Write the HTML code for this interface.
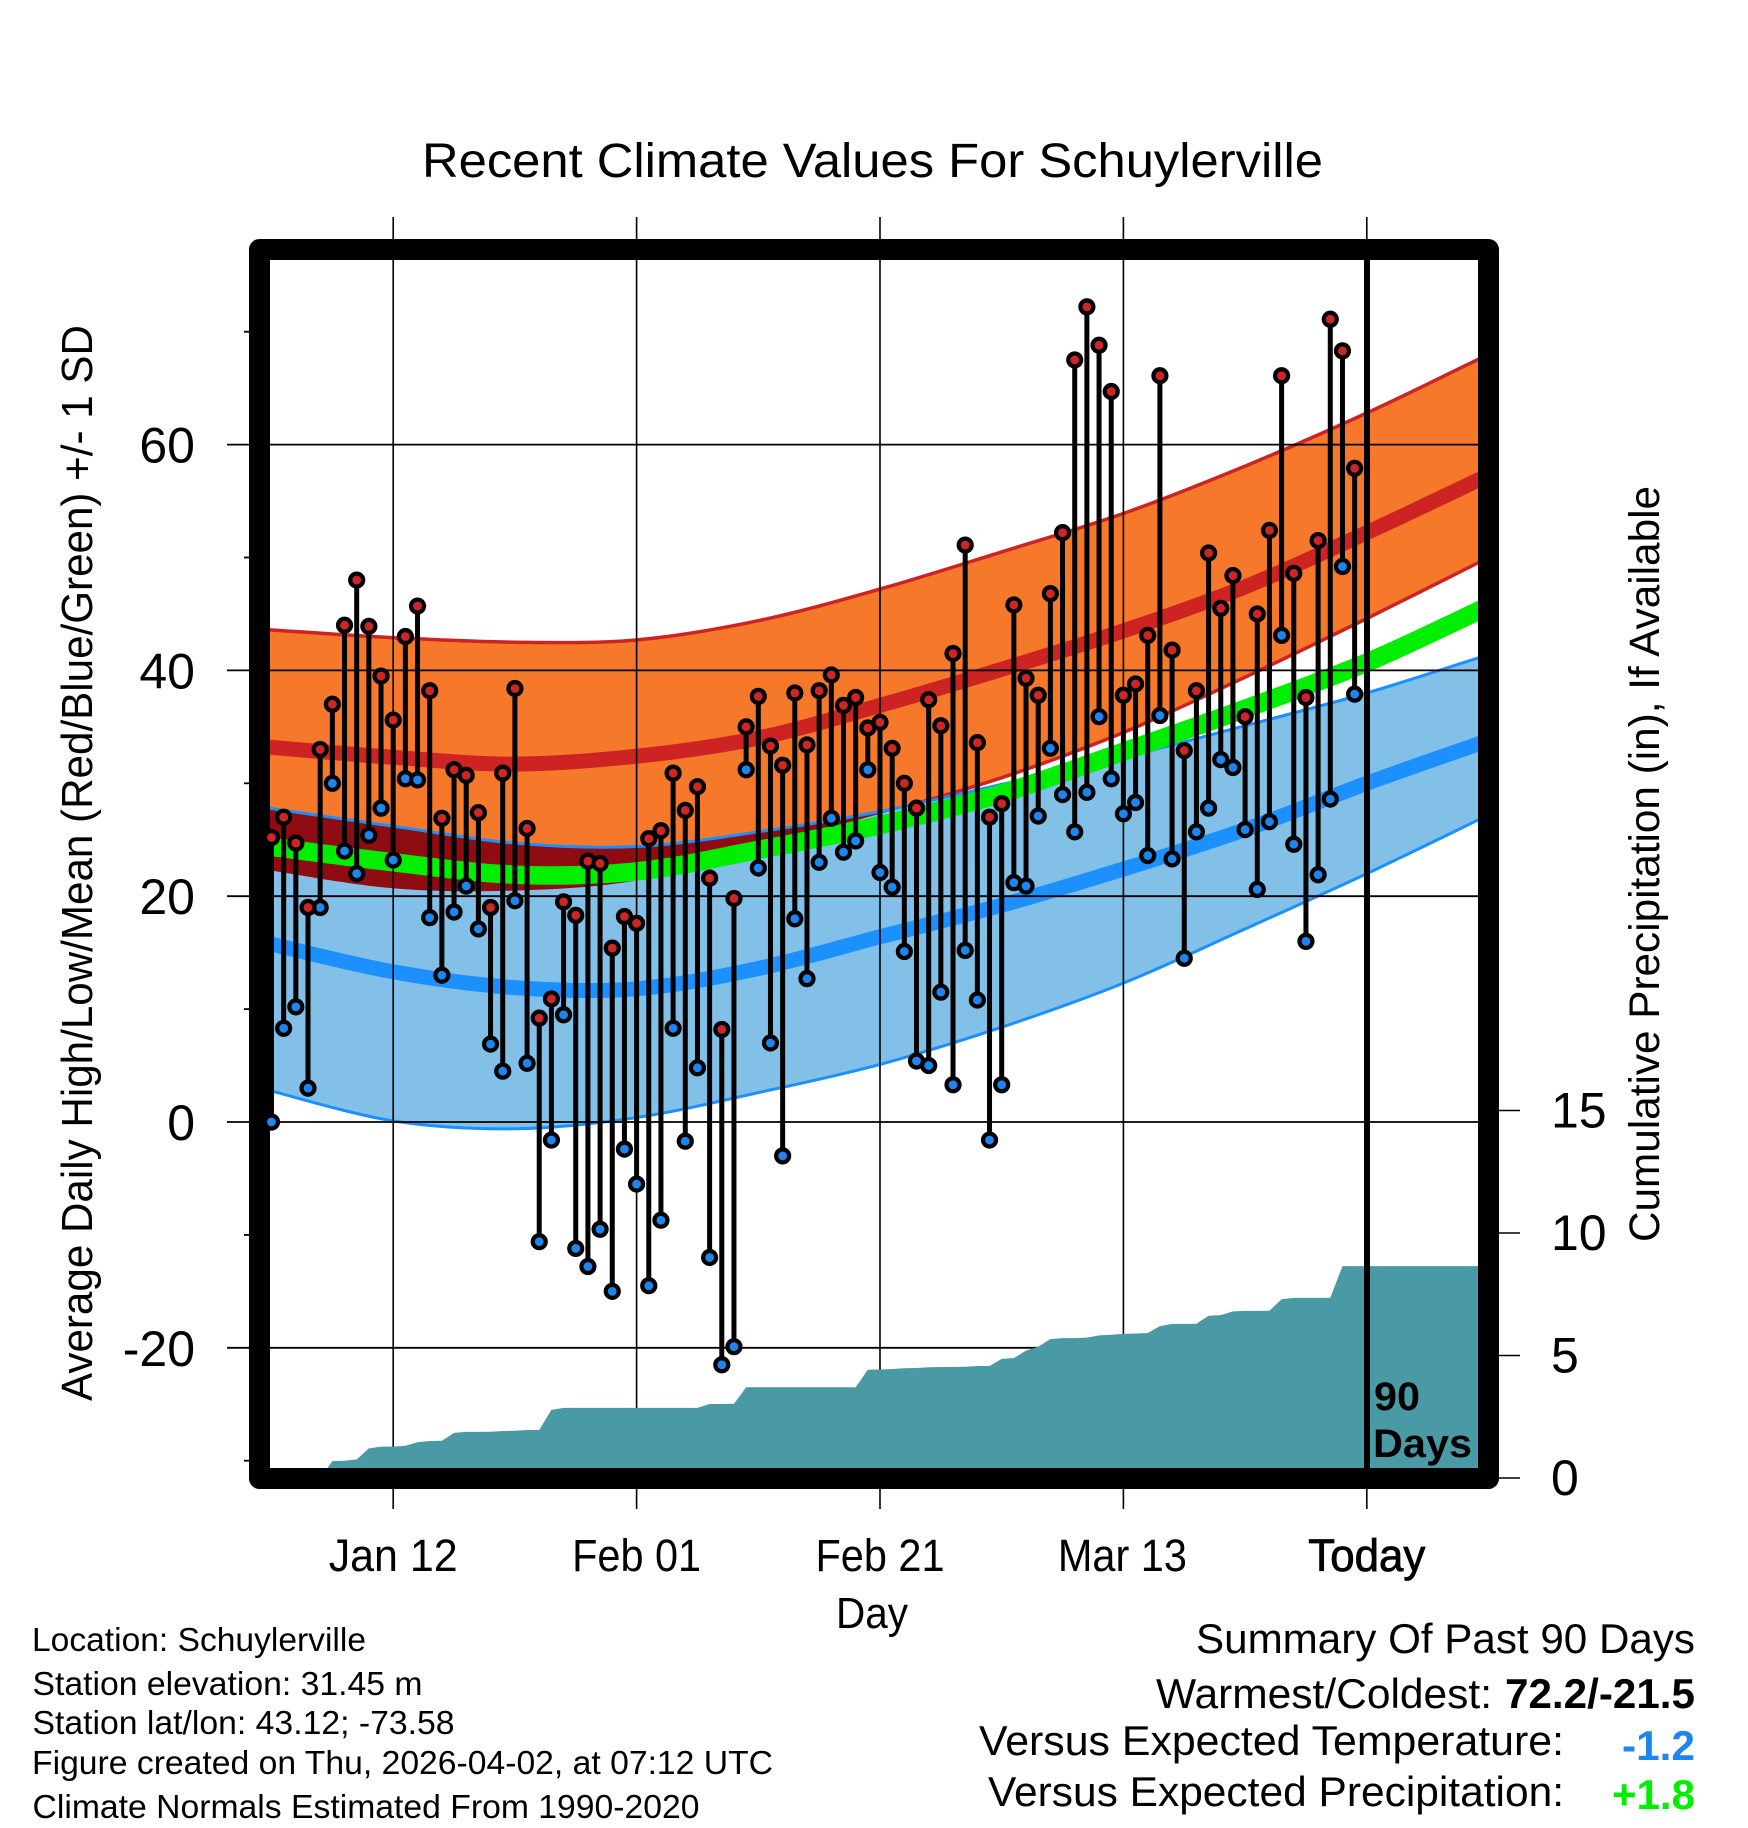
<!DOCTYPE html>
<html lang="en">
<head>
<meta charset="utf-8">
<title>Recent Climate Values For Schuylerville</title>
<style>
html,body{margin:0;padding:0;background:#fff;}
svg{display:block;}
text{font-family:"Liberation Sans",sans-serif;fill:#000;}
</style>
</head>
<body>
<svg id="chart" xmlns="http://www.w3.org/2000/svg" width="1748" height="1828" viewBox="0 0 1748 1828">
  <rect x="0" y="0" width="1748" height="1828" fill="#ffffff"/>
  <defs>
    <clipPath id="plot-clip"><rect x="270" y="260" width="1208" height="1208"/></clipPath>
    <clipPath id="orange-clip"><path id="orange-clip-path" d=""/></clipPath>
  </defs>
  <g id="bands" clip-path="url(#plot-clip)"></g>
  <g id="grid"></g>
  <path id="precip-area" clip-path="url(#plot-clip)" fill="#4a9aa5" d=""/>
  <rect x="259.5" y="249.5" width="1229" height="1229" fill="none" stroke="#000" stroke-width="21" stroke-linejoin="round"/>
  <g id="marks"></g>
  <line x1="1367" x2="1367" y1="258" y2="1470" stroke="#000" stroke-width="6"/>
  <g id="tick-labels"></g>

  <text x="422" y="177" font-size="48" textLength="901" lengthAdjust="spacingAndGlyphs">Recent Climate Values For Schuylerville</text>
  <text x="836" y="1628" font-size="44" textLength="72" lengthAdjust="spacingAndGlyphs">Day</text>
  <text transform="translate(92 1401) rotate(-90)" font-size="44" textLength="1076" lengthAdjust="spacingAndGlyphs">Average Daily High/Low/Mean (Red/Blue/Green) +/- 1 SD</text>
  <text transform="translate(1659 1242) rotate(-90)" font-size="43" textLength="756" lengthAdjust="spacingAndGlyphs">Cumulative Precipitation (in), If Available</text>

  <text x="1374" y="1410" font-size="40" font-weight="bold" textLength="46" lengthAdjust="spacingAndGlyphs">90</text>
  <text x="1373" y="1457" font-size="40" font-weight="bold" textLength="99" lengthAdjust="spacingAndGlyphs">Days</text>

  <text x="32" y="1651" font-size="33" textLength="334" lengthAdjust="spacingAndGlyphs">Location: Schuylerville</text>
  <text x="32.5" y="1695" font-size="33" textLength="390" lengthAdjust="spacingAndGlyphs">Station elevation: 31.45 m</text>
  <text x="32.5" y="1734" font-size="33" textLength="422" lengthAdjust="spacingAndGlyphs">Station lat/lon: 43.12; -73.58</text>
  <text x="32" y="1774" font-size="33" textLength="741" lengthAdjust="spacingAndGlyphs">Figure created on Thu, 2026-04-02, at 07:12 UTC</text>
  <text x="32.5" y="1818" font-size="33" textLength="667" lengthAdjust="spacingAndGlyphs">Climate Normals Estimated From 1990-2020</text>

  <text x="1196" y="1653" font-size="42" textLength="499" lengthAdjust="spacingAndGlyphs">Summary Of Past 90 Days</text>
  <text x="1156" y="1708" font-size="42" textLength="336" lengthAdjust="spacingAndGlyphs">Warmest/Coldest:</text>
  <text x="1505" y="1708" font-size="42" font-weight="bold" textLength="190" lengthAdjust="spacingAndGlyphs">72.2/-21.5</text>
  <text x="979" y="1755" font-size="42" textLength="585" lengthAdjust="spacingAndGlyphs">Versus Expected Temperature:</text>
  <text x="1622" y="1760" font-size="42" font-weight="bold" style="fill:#1c86ee" textLength="73" lengthAdjust="spacingAndGlyphs">-1.2</text>
  <text x="988" y="1806" font-size="42" textLength="576" lengthAdjust="spacingAndGlyphs">Versus Expected Precipitation:</text>
  <text x="1612" y="1809" font-size="42" font-weight="bold" style="fill:#00ee00" textLength="83" lengthAdjust="spacingAndGlyphs">+1.8</text>
</svg>
<script>
// ---- data ----
const highs = [25.2,27.0,24.7,19.0,33.0,37.0,44.0,48.0,43.9,39.5,35.6,43.0,45.7,38.2,26.9,31.2,30.7,27.4,19.0,30.9,38.4,26.0,9.2,10.9,19.5,18.3,23.1,22.9,15.4,18.2,17.6,25.1,25.8,30.9,27.6,29.7,21.6,8.2,19.8,35.0,37.7,33.3,31.6,38.0,33.4,38.2,39.6,36.9,37.6,34.9,35.4,33.1,30.0,27.8,37.4,35.1,41.5,51.1,33.6,27.0,28.2,45.8,39.3,37.8,46.8,52.2,67.5,72.2,68.8,64.7,37.8,38.8,43.1,66.1,41.8,32.9,38.2,50.4,45.5,48.4,35.9,45.0,52.4,66.1,48.6,37.6,51.5,71.1,68.3,57.9];
const lows = [0.0,8.3,10.2,3.0,19.0,30.0,24.0,22.0,25.4,27.8,23.2,30.4,30.3,18.1,13.0,18.6,20.9,17.1,6.9,4.5,19.6,5.2,-10.6,-1.6,9.5,-11.2,-12.8,-9.5,-15.0,-2.4,-5.5,-14.5,-8.7,8.3,-1.7,4.8,-12.0,-21.5,-19.9,31.2,22.5,7.0,-3.0,18.0,12.7,23.0,26.9,23.9,24.9,31.2,22.1,20.8,15.1,5.4,5.0,11.5,3.3,15.2,10.8,-1.6,3.3,21.2,20.9,27.1,33.1,29.0,25.7,29.2,35.9,30.4,27.3,28.3,23.6,36.0,23.3,14.5,25.7,27.8,32.1,31.4,25.9,20.6,26.6,43.1,24.6,16.0,21.9,28.6,49.2,37.9];
const precip = [0,0,0,0,0,0.69,0.70,0.76,1.21,1.28,1.28,1.32,1.46,1.51,1.52,1.84,1.88,1.88,1.89,1.92,1.93,1.96,1.96,2.78,2.86,2.86,2.86,2.86,2.86,2.86,2.86,2.86,2.86,2.86,2.86,2.86,3.02,3.02,3.03,3.70,3.70,3.70,3.70,3.70,3.70,3.70,3.70,3.70,3.70,4.42,4.43,4.45,4.48,4.49,4.52,4.53,4.53,4.54,4.57,4.57,4.86,4.90,5.20,5.36,5.67,5.71,5.71,5.73,5.82,5.85,5.88,5.90,5.92,6.20,6.29,6.29,6.30,6.62,6.65,6.80,6.82,6.82,6.83,7.30,7.35,7.35,7.35,7.36,8.65,8.65];
const normalDays = [-0.2,10,20,30,40,50,60,70,80,90,100];
const highUpper = [43.6,42.9,42.5,42.7,44.4,47.2,50.5,53.9,58.1,62.8,68.0];
const highMean = [33.2,32.3,31.7,32.4,34.0,36.9,40.1,43.5,47.4,52.2,57.3];
const highLower = [22.3,20.7,20.5,21.4,24.4,27.3,30.5,34.5,39.4,44.6,50.0];
const lowUpper = [27.8,26.2,24.7,24.4,25.7,27.5,29.9,32.3,35.1,38.0,41.4];
const lowMean = [15.8,13.3,11.9,11.8,13.6,16.4,19.2,22.4,25.9,30.0,33.8];
const lowLower = [2.8,0.1,-0.6,0.4,2.6,5.1,8.4,12.3,17.1,22.0,27.2];
const meanNormal = [24.4,23.0,21.9,22.2,24.1,26.3,29.1,32.8,36.6,40.7,45.7];
const xTickDays = [10,30,50,70,90];
const xTickLabels = ['Jan 12','Feb 01','Feb 21','Mar 13','Today'];
const yTickValues = [60,40,20,0,-20];
const yMinorValues = [70,50,30,10,-10,-30];
const precipTickValues = [15,10,5,0];

// ---- axis functions ----
function xScale(day){ return 271.5 + 12.17*day; }
function yScale(v){ return 1122 - 11.29*v; }
function pScale(p){ return 1478 - 24.5*p; }

const NS = 'http://www.w3.org/2000/svg';
function make(tag, parent, attrs){
  const el = document.createElementNS(NS, tag);
  for (const k in attrs) el.setAttribute(k, attrs[k]);
  parent.appendChild(el);
  return el;
}
function curveSegments(pts){
  let d = '';
  for (let i = 0; i < pts.length-1; i++){
    const p0 = pts[Math.max(i-1,0)], p1 = pts[i], p2 = pts[i+1], p3 = pts[Math.min(i+2,pts.length-1)];
    const c1x = p1[0]+(p2[0]-p0[0])/6, c1y = p1[1]+(p2[1]-p0[1])/6;
    const c2x = p2[0]-(p3[0]-p1[0])/6, c2y = p2[1]-(p3[1]-p1[1])/6;
    d += 'C'+c1x.toFixed(1)+' '+c1y.toFixed(1)+' '+c2x.toFixed(1)+' '+c2y.toFixed(1)+' '+p2[0].toFixed(1)+' '+p2[1].toFixed(1);
  }
  return d;
}
function points(values){ return values.map(function(v,i){ return [xScale(normalDays[i]), yScale(v)]; }); }
function linePath(values){
  const pts = points(values);
  return 'M'+pts[0][0].toFixed(1)+' '+pts[0][1].toFixed(1)+curveSegments(pts);
}
function bandPath(upper, lower){
  const a = points(upper), b = points(lower).reverse();
  return 'M'+a[0][0].toFixed(1)+' '+a[0][1].toFixed(1)+curveSegments(a)+'L'+b[0][0].toFixed(1)+' '+b[0][1].toFixed(1)+curveSegments(b)+'Z';
}

// ---- bands ----
const bands = document.getElementById('bands');
document.getElementById('orange-clip-path').setAttribute('d', bandPath(highUpper, highLower));

const orangeFill = make('path', bands, {d:bandPath(highUpper, highLower), fill:'#f6792b'});



const highUpperLine = make('path', bands, {d:linePath(highUpper), fill:'none', stroke:'#cd2322', 'stroke-width':3.5});



const highLowerLine = make('path', bands, {d:linePath(highLower), fill:'none', stroke:'#cd2322', 'stroke-width':3.5});



const blueFill = make('path', bands, {d:bandPath(lowUpper, lowLower), fill:'#83c0e8'});



const overlapFill = make('path', bands, {d:bandPath(lowUpper, lowLower), fill:'#8f0c12', 'clip-path':'url(#orange-clip)'});



const lowUpperLine = make('path', bands, {d:linePath(lowUpper), fill:'none', stroke:'#1c90ff', 'stroke-width':3});



const lowLowerLine = make('path', bands, {d:linePath(lowLower), fill:'none', stroke:'#1c90ff', 'stroke-width':3});



const highMeanLine = make('path', bands, {d:linePath(highMean), fill:'none', stroke:'#cd2322', 'stroke-width':15});



const lowMeanLine = make('path', bands, {d:linePath(lowMean), fill:'none', stroke:'#1c90ff', 'stroke-width':15});



const meanLine = make('path', bands, {d:linePath(meanNormal), fill:'none', stroke:'#00ee00', 'stroke-width':18.5});



// ---- grid and ticks ----
const grid = document.getElementById('grid');
const labels = document.getElementById('tick-labels');

yTickValues.forEach(function(v){
  const line = make('line', grid, {x1:227, x2:1478, y1:yScale(v), y2:yScale(v), stroke:'#000', 'stroke-width':1.8});
  
  
  const t = make('text', labels, {x:195, y:yScale(v)+18, 'text-anchor':'end', 'font-size':50});
  
  
  t.textContent = String(v);
});
yMinorValues.forEach(function(v){
  const line = make('line', grid, {x1:244, x2:252, y1:yScale(v), y2:yScale(v), stroke:'#000', 'stroke-width':1.8});
  
  
});
xTickDays.forEach(function(day, i){
  const line = make('line', grid, {x1:xScale(day), x2:xScale(day), y1:217, y2:1509, stroke:'#000', 'stroke-width':1.6});
  
  
  const t = make('text', labels, {x:xScale(day)-(xTickLabels[i] === 'Mar 13' ? 1 : 0), y:1571, 'text-anchor':'middle', 'font-size':45});
  
  
  t.setAttribute('textLength', xTickLabels[i] === 'Today' ? 117 : 129);
  t.setAttribute('lengthAdjust', 'spacingAndGlyphs');
  if (xTickLabels[i] === 'Today') {
    t.setAttribute('stroke', '#000');
    t.setAttribute('stroke-width', '0.8');
  }
  t.textContent = xTickLabels[i];
});
precipTickValues.forEach(function(p){
  const line = make('line', grid, {x1:1497, x2:1520, y1:pScale(p), y2:pScale(p), stroke:'#000', 'stroke-width':1.6});
  
  
  const t = make('text', labels, {x:1551, y:pScale(p)+17, 'font-size':50});
  
  
  t.textContent = String(p);
});

// ---- cumulative precipitation ----
let precipD = 'M'+xScale(0)+' '+pScale(0);
precip.forEach(function(p, i){ precipD += 'L'+xScale(i).toFixed(1)+' '+pScale(p).toFixed(1); });
precipD += 'L1478 '+pScale(precip[precip.length-1]).toFixed(1)+'L1478 1478Z';
document.getElementById('precip-area').setAttribute('d', precipD);

// ---- daily high / low stems and markers ----
const marks = document.getElementById('marks');
highs.forEach(function(h, i){
  const stem = make('line', marks, {x1:xScale(i), x2:xScale(i), y1:yScale(h), y2:yScale(lows[i]), stroke:'#000', 'stroke-width':5});
  
  
});
lows.forEach(function(l, i){
  const dot = make('circle', marks, {cx:xScale(i), cy:yScale(l), r:6.5, fill:'#1c86ee', stroke:'#000', 'stroke-width':4.2});
  
  
});
highs.forEach(function(h, i){
  const dot = make('circle', marks, {cx:xScale(i), cy:yScale(h), r:6.5, fill:'#cd2626', stroke:'#000', 'stroke-width':4.2});
  
  
});
</script>
</body>
</html>
